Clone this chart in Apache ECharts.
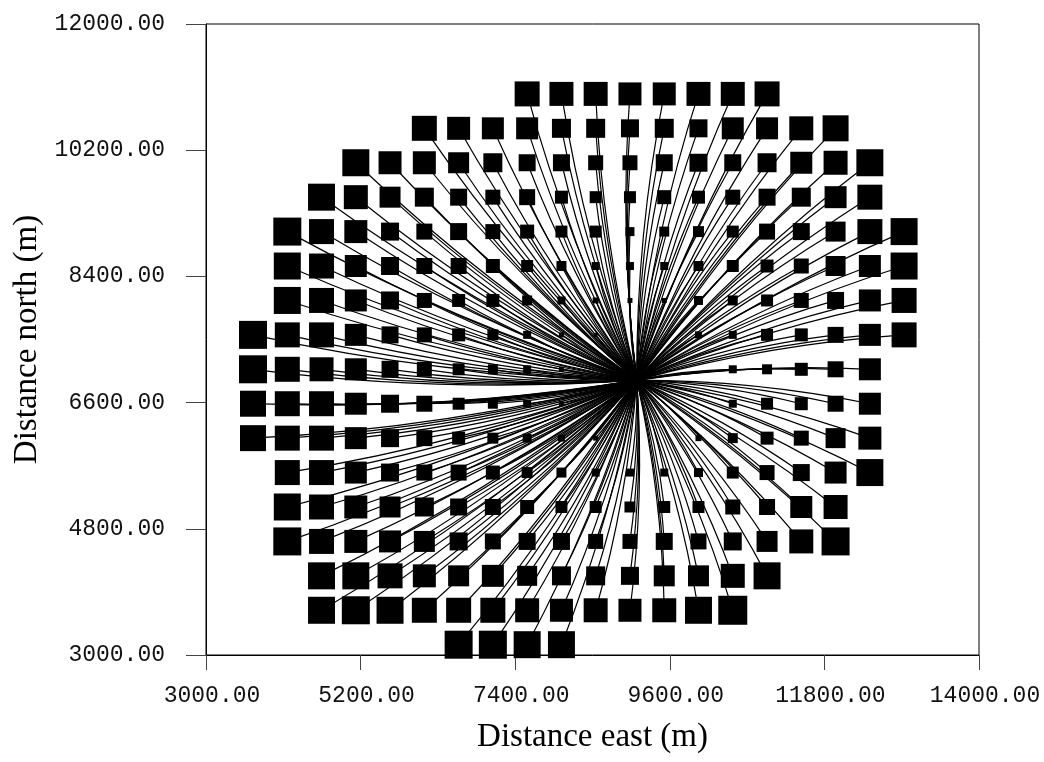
<!DOCTYPE html>
<html>
<head>
<meta charset="utf-8">
<script src="https://cdn.jsdelivr.net/npm/echarts@6/dist/echarts.min.js"></script>
<style>
html,body{margin:0;padding:0;background:#fff;}
#chart{width:1044px;height:762px;}
</style>
</head>
<body>
<div id="chart"></div>
<script>
// Grid column eastings (m) and row northings (m)
const EAST = [3669, 4157, 4644, 5132, 5619, 6107, 6595, 7082, 7570, 8058, 8545, 9033, 9521, 10008, 10496, 10984, 11471, 11959, 12447, 12934];
const NORTH = [11003, 10512, 10021, 9530, 9039, 8548, 8057, 7566, 7075, 6584, 6093, 5602, 5111, 4620, 4129, 3638, 3147];
// Pad (common origin of all trajectories)
const PAD_EAST = 9130;
const PAD_NORTH = 6920;
// Marker value per target, one array per row (null = no target)
const _ = null;
const ROW_VALUES = [
  [_,_,_,_,_,_,_,_,25,24,24,23,23,24,24,25,_,_,_,_],
  [_,_,_,_,_,25,23,22,22,19,19,18,19,18,22,22,24,26,_,_],
  [_,_,_,27,23,23,21,19,17,17,15,15,17,18,17,19,22,24,27,_],
  [_,_,27,24,21,19,17,15,16,13,12,12,14,13,15,17,19,22,25,_],
  [_,28,25,23,18,16,17,15,14,12,12,9,10,11,12,16,17,20,25,27],
  [_,27,25,22,18,16,16,14,12,10,8,8,8,10,12,13,15,20,22,27],
  [_,27,25,22,18,15,13,13,10,8,6,5,5,9,10,12,15,17,22,25],
  [28,25,25,22,17,15,13,11,8,5,4,_,_,7,8,12,13,16,22,25],
  [28,25,24,22,17,15,12,10,8,5,_,_,_,_,8,10,13,16,22,_],
  [26,25,25,22,18,16,12,10,8,5,_,_,_,_,8,12,13,16,22,_],
  [26,25,25,22,18,16,13,11,9,7,5,_,_,6,10,13,15,20,23,_],
  [_,25,25,22,18,16,16,14,11,10,8,8,8,9,12,15,17,22,27,_],
  [_,27,25,23,21,19,17,16,14,12,12,11,12,12,15,16,22,24,_,_],
  [_,28,25,23,22,21,18,16,17,17,15,15,17,16,18,21,24,28,_,_],
  [_,_,27,27,25,23,21,22,20,19,19,18,21,21,24,27,_,_,_,_],
  [_,_,27,28,27,25,25,25,24,23,24,23,24,27,29,_,_,_,_,_],
  [_,_,_,_,_,_,28,28,27,27,_,_,_,_,_,_,_,_,_,_]
];
const X_TICKS = [3000, 5200, 7400, 9600, 11800, 14000];
const Y_TICKS = [3000, 4800, 6600, 8400, 10200, 12000];

const points = [];
const paths = [];
ROW_VALUES.forEach((row, r) => {
  row.forEach((v, c) => {
    if (v == null) return;
    points.push([EAST[c], NORTH[r], v]);
    paths.push({ coords: [[PAD_EAST, PAD_NORTH], [EAST[c], NORTH[r]]] });
  });
});

const chart = echarts.init(document.getElementById('chart'), null, { renderer: 'canvas' });
const tickFont = 'Liberation Mono';
const titleFont = '"Liberation Serif", "Times New Roman", serif';
chart.setOption({
  backgroundColor: '#fff',
  animation: false,
  grid: { left: 206, top: 24, right: 65, bottom: 107, show: true, borderColor: '#000', borderWidth: 1, backgroundColor: 'transparent' },
  xAxis: {
    type: 'value', min: X_TICKS[0], max: X_TICKS[X_TICKS.length - 1], interval: X_TICKS[1] - X_TICKS[0],
    name: 'Distance east (m)', nameLocation: 'middle', nameGap: 66,
    nameTextStyle: { fontFamily: titleFont, fontSize: 33, color: '#000' },
    axisLine: { onZero: false, lineStyle: { color: '#000', width: 1 } },
    axisTick: { inside: false, length: 15, lineStyle: { color: '#444', width: 1 } },
    axisLabel: { margin: 29, fontFamily: tickFont, fontSize: 23, color: '#111', padding: [0, 0, 0, 12], formatter: v => v.toFixed(2) },
    splitLine: { show: false }
  },
  yAxis: {
    type: 'value', min: Y_TICKS[0], max: Y_TICKS[Y_TICKS.length - 1], interval: Y_TICKS[1] - Y_TICKS[0],
    name: 'Distance north (m)', nameLocation: 'middle', nameGap: 158,
    nameTextStyle: { fontFamily: titleFont, fontSize: 33, color: '#000' },
    axisLine: { onZero: false, lineStyle: { color: '#000', width: 1 } },
    axisTick: { inside: false, length: 20, lineStyle: { color: '#444', width: 1 } },
    axisLabel: { margin: 41, fontFamily: tickFont, fontSize: 23, color: '#111', formatter: v => v.toFixed(2) },
    splitLine: { show: false }
  },
  series: [
    {
      type: 'lines', coordinateSystem: 'cartesian2d', silent: true, z: 2,
      lineStyle: { color: '#000', width: 1.2, opacity: 1, curveness: 0.05 },
      data: paths
    },
    {
      type: 'scatter', z: 3, silent: true,
      symbol: 'rect',
      symbolSize: v => v[2],
      itemStyle: { color: '#000', opacity: 1 },
      data: points
    }
  ]
});
</script>
</body>
</html>
